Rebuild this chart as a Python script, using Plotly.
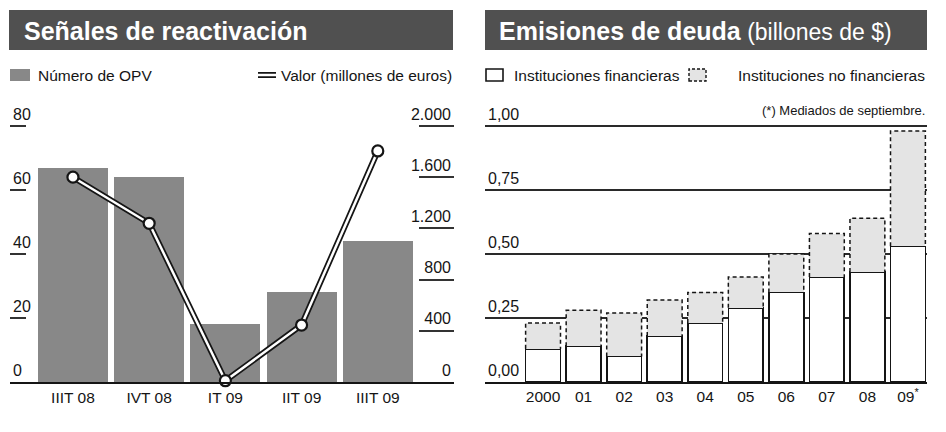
import plotly.graph_objects as go

W, H = 946, 432

# ---- data: IPO activity (left panel) ----
quarters = ["IIIT 08", "IVT 08", "IT 09", "IIT 09", "IIIT 09"]
num_opv = [67, 64, 18, 28, 44]
valor_meur = [1600, 1240, 10, 445, 1805]

# ---- data: debt issuance (right panel), trillions of $ ----
years = ["2000", "01", "02", "03", "04", "05", "06", "07", "08", "09<sup>*</sup>"]
inst_financieras = [0.13, 0.14, 0.10, 0.18, 0.23, 0.29, 0.35, 0.41, 0.43, 0.53]
inst_no_financieras = [0.10, 0.14, 0.17, 0.14, 0.12, 0.12, 0.15, 0.17, 0.21, 0.45]

left_ticks = [0, 20, 40, 60, 80]
right_ticks = [0, 400, 800, 1200, 1600, 2000]
right_ticktext = ["0", "400", "800", "1.200", "1.600", "2.000"]
debt_ticks = [0, 0.25, 0.5, 0.75, 1.0]
debt_ticktext = ["0,00", "0,25", "0,50", "0,75", "1,00"]

FONT = "Liberation Sans, Arial, sans-serif"
INK = "#151515"
BAR_GREY = "#888888"
BANNER = "#505050"

# vertical layout (pixels from the top): axis baseline and plot top
BASE_PX, TOP_TICK_PX, PLOT_TOP_PX = 382, 126, 98
# stretch factor so the top tick sits below the plot edge (room for its label)
head = (BASE_PX - PLOT_TOP_PX) / (BASE_PX - TOP_TICK_PX)


def px(x):
    return x / W


def py(y):
    return 1 - y / H


fig = go.Figure()

# left panel: bars = number of IPOs, line = value
fig.add_trace(go.Bar(
    x=list(range(len(quarters))), y=num_opv, width=0.92,
    marker=dict(color=BAR_GREY, line=dict(width=0)),
    xaxis="x", yaxis="y", showlegend=False,
))
fig.add_trace(go.Scatter(
    x=list(range(len(quarters))), y=valor_meur, mode="lines",
    line=dict(color=INK, width=6), xaxis="x", yaxis="y2",
    showlegend=False, cliponaxis=False,
))
fig.add_trace(go.Scatter(
    x=list(range(len(quarters))), y=valor_meur, mode="lines+markers",
    line=dict(color="white", width=2.5),
    marker=dict(size=11, color="white", line=dict(color=INK, width=2.2)),
    xaxis="x", yaxis="y2", showlegend=False, cliponaxis=False,
))

# right panel: stacked bars
idx = list(range(len(years)))
bw = 0.86
fig.add_trace(go.Bar(
    x=idx, y=inst_financieras, width=bw,
    marker=dict(color="white", line=dict(color=INK, width=1.6)),
    xaxis="x2", yaxis="y3", showlegend=False,
))
fig.add_trace(go.Bar(
    x=idx, y=inst_no_financieras, width=bw,
    marker=dict(color="#e4e4e4", line=dict(width=0)),
    xaxis="x2", yaxis="y3", showlegend=False,
))
# dashed outline of the non-financial segments
ox, oy = [], []
for i, lo, up in zip(idx, inst_financieras, inst_no_financieras):
    top = lo + up
    ox += [i - bw / 2, i - bw / 2, i + bw / 2, i + bw / 2, None]
    oy += [lo, top, top, lo, None]
fig.add_trace(go.Scatter(
    x=ox, y=oy, mode="lines", line=dict(color=INK, width=1.5, dash="4px,3px"),
    xaxis="x2", yaxis="y3", showlegend=False, hoverinfo="skip",
))

ydom = [py(BASE_PX), py(PLOT_TOP_PX)]
ytickfont = dict(family=FONT, size=16, color=INK)
xtickfont = dict(family=FONT, size=15.5, color=INK)

fig.update_layout(
    width=W, height=H, margin=dict(l=0, r=0, t=0, b=0),
    paper_bgcolor="white", plot_bgcolor="rgba(0,0,0,0)",
    barmode="stack", showlegend=False,
    font=dict(family=FONT, color=INK),
    xaxis=dict(
        domain=[px(10), px(454)], range=[-0.826, 5.0], anchor="y",
        tickvals=list(range(len(quarters))), ticktext=quarters,
        showline=True, linecolor=INK, linewidth=2, ticks="",
        showgrid=False, zeroline=False, tickfont=xtickfont,
    ),
    yaxis=dict(
        domain=ydom, range=[0, 80 * head], anchor="x",
        tickvals=left_ticks, ticks="inside", ticklen=16, tickwidth=1.5,
        tickcolor="#333", ticklabelposition="inside top",
        showgrid=False, zeroline=False, showline=False, tickfont=ytickfont,
    ),
    yaxis2=dict(
        overlaying="y", side="right", range=[0, 2000 * head], anchor="x",
        tickvals=right_ticks, ticktext=right_ticktext,
        ticks="inside", ticklen=35, tickwidth=1.5, tickcolor="#333",
        ticklabelposition="inside top",
        showgrid=False, zeroline=False, showline=False, tickfont=ytickfont,
    ),
    xaxis2=dict(
        domain=[px(485), px(927)], range=[-1.432, 9.47], anchor="y3",
        tickvals=idx, ticktext=years,
        showline=True, linecolor=INK, linewidth=1.5, ticks="",
        showgrid=False, zeroline=False, tickfont=xtickfont,
    ),
    yaxis3=dict(
        domain=ydom, range=[0, 1.0 * head], anchor="x2",
        tickvals=debt_ticks, ticktext=debt_ticktext, ticks="",
        ticklabelposition="inside top",
        showgrid=True, gridcolor="#2a2a2a", gridwidth=1.5,
        zeroline=False, showline=False, tickfont=ytickfont,
    ),
)

shapes = []
annotations = []

# title banners
for x0, x1 in [(9, 453), (485, 927)]:
    shapes.append(dict(type="rect", xref="paper", yref="paper",
                       x0=px(x0), x1=px(x1), y0=py(50), y1=py(10),
                       fillcolor=BANNER, line=dict(width=0), layer="below"))
annotations.append(dict(
    text="<b>Señales de reactivación</b>", xref="paper", yref="paper",
    x=px(22), y=py(31), xanchor="left", yanchor="middle", showarrow=False,
    font=dict(family=FONT, size=25, color="white"),
))
annotations.append(dict(
    text="<b>Emisiones de deuda</b><span style='font-size:23px'> (billones de $)</span>",
    xref="paper", yref="paper",
    x=px(497), y=py(31), xanchor="left", yanchor="middle", showarrow=False,
    font=dict(family=FONT, size=25, color="white"),
))

# legend keys
legend_font = dict(family=FONT, size=15.5, color=INK)
shapes.append(dict(type="rect", xref="paper", yref="paper",
                   x0=px(10), x1=px(30), y0=py(81), y1=py(69),
                   fillcolor=BAR_GREY, line=dict(width=0)))
annotations.append(dict(text="Número de OPV", xref="paper", yref="paper",
                        x=px(36), y=py(75), xanchor="left", yanchor="middle",
                        showarrow=False, font=legend_font))
shapes.append(dict(type="line", xref="paper", yref="paper",
                   x0=px(258), x1=px(276), y0=py(75), y1=py(75),
                   line=dict(color=INK, width=6)))
shapes.append(dict(type="line", xref="paper", yref="paper",
                   x0=px(258), x1=px(276), y0=py(75), y1=py(75),
                   line=dict(color="white", width=2.5)))
annotations.append(dict(text="Valor (millones de euros)", xref="paper", yref="paper",
                        x=px(454), y=py(75), xanchor="right", yanchor="middle",
                        showarrow=False, font=legend_font))

shapes.append(dict(type="rect", xref="paper", yref="paper",
                   x0=px(486), x1=px(503), y0=py(81), y1=py(69),
                   fillcolor="white", line=dict(color=INK, width=1.6)))
annotations.append(dict(text="Instituciones financieras", xref="paper", yref="paper",
                        x=px(512), y=py(75), xanchor="left", yanchor="middle",
                        showarrow=False, font=legend_font))
shapes.append(dict(type="rect", xref="paper", yref="paper",
                   x0=px(689), x1=px(706), y0=py(81), y1=py(69),
                   fillcolor="#e4e4e4", line=dict(color=INK, width=1.4, dash="3px,2px")))
annotations.append(dict(text="Instituciones no financieras", xref="paper", yref="paper",
                        x=px(927), y=py(75), xanchor="right", yanchor="middle",
                        showarrow=False, font=legend_font))

annotations.append(dict(text="(*) Mediados de septiembre.", xref="paper", yref="paper",
                        x=px(927), y=py(110), xanchor="right", yanchor="middle",
                        showarrow=False, font=dict(family=FONT, size=13, color=INK)))

fig.update_layout(shapes=shapes, annotations=annotations)

fig.write_html("out.html")
